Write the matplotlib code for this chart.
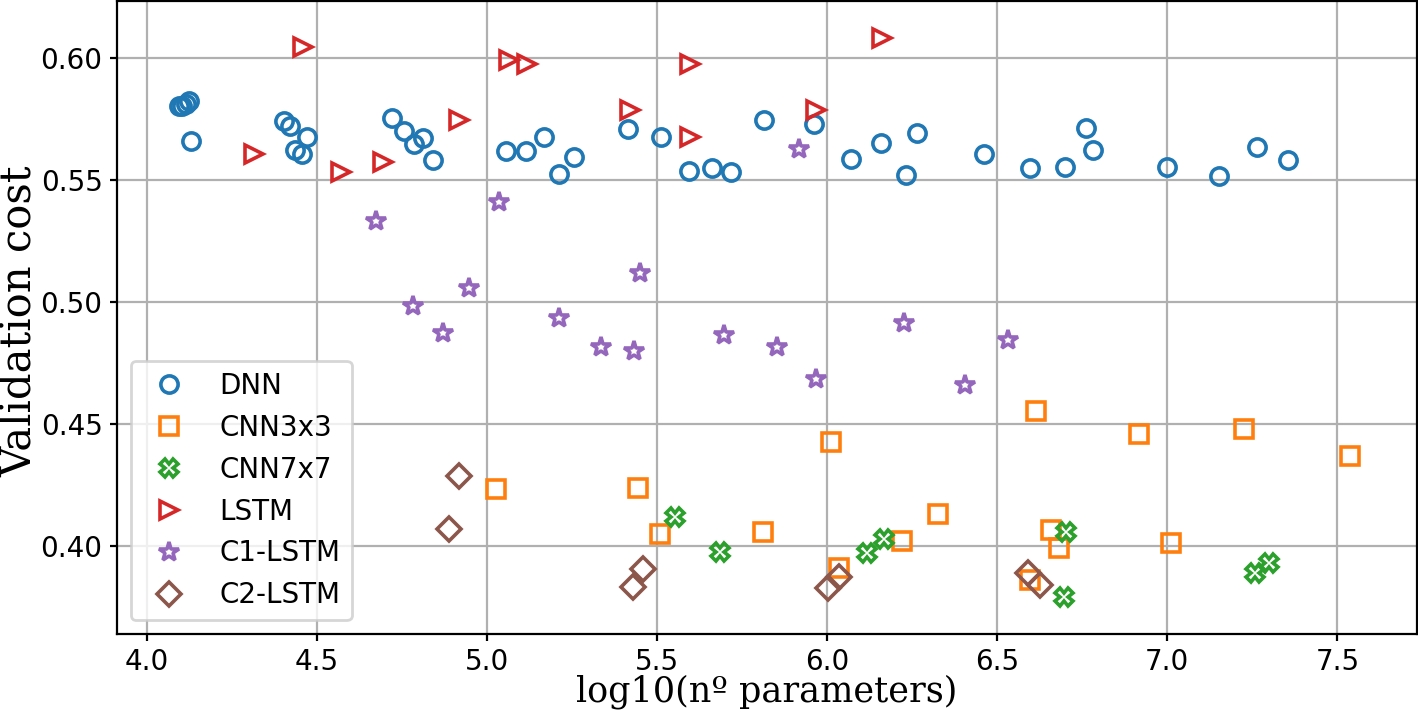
import matplotlib
matplotlib.use("Agg")
import matplotlib.pyplot as plt

# DNN
dnn_x = [4.095, 4.105, 4.115, 4.125, 4.13, 4.404, 4.422, 4.471, 4.436, 4.456,
         4.722, 4.757, 4.812, 4.787, 4.841, 5.056, 5.115, 5.167, 5.213, 5.255,
         5.415, 5.513, 5.593, 5.662, 5.719, 5.814, 5.961, 6.071, 6.159, 6.232,
         6.263, 6.460, 6.595, 6.698, 6.761, 6.781, 7.000, 7.152, 7.265, 7.355]
dnn_y = [0.5800, 0.5803, 0.5810, 0.5823, 0.5660, 0.5742, 0.5720, 0.5676, 0.5622, 0.5605,
         0.5754, 0.5700, 0.5672, 0.5645, 0.5580, 0.5616, 0.5616, 0.5676, 0.5522, 0.5592,
         0.5708, 0.5676, 0.5536, 0.5549, 0.5530, 0.5745, 0.5728, 0.5586, 0.5652, 0.5518,
         0.5693, 0.5604, 0.5547, 0.5553, 0.5713, 0.5620, 0.5553, 0.5516, 0.5633, 0.5580]

# CNN3x3
cnn3_x = [5.027, 5.444, 5.508, 5.812, 6.010, 6.036, 6.221, 6.325, 6.614, 6.657,
          6.681, 6.596, 6.918, 7.012, 7.224, 7.536]
cnn3_y = [0.4231, 0.4238, 0.4048, 0.4055, 0.4426, 0.3907, 0.4019, 0.4130, 0.4553, 0.4063,
          0.3989, 0.3859, 0.4456, 0.4012, 0.4478, 0.4368]

# CNN7x7
cnn7_x = [5.553, 5.686, 6.118, 6.167, 6.703, 6.696, 7.257, 7.299]
cnn7_y = [0.4119, 0.3973, 0.3969, 0.4026, 0.4055, 0.3791, 0.3887, 0.3930]

# LSTM
lstm_x = [4.316, 4.461, 4.571, 4.694, 4.917, 5.064, 5.119, 5.421, 5.598, 5.598,
          5.966, 6.162]
lstm_y = [0.5604, 0.6045, 0.5533, 0.5571, 0.5745, 0.5991, 0.5973, 0.5786, 0.5973, 0.5674,
          0.5786, 0.6082]

# C1-LSTM
c1_x = [4.674, 4.784, 4.871, 4.946, 5.037, 5.213, 5.336, 5.431, 5.451, 5.696,
        5.853, 5.917, 5.968, 6.225, 6.405, 6.531]
c1_y = [0.5332, 0.4982, 0.4873, 0.5057, 0.5410, 0.4934, 0.4813, 0.4799, 0.5116, 0.4864,
        0.4816, 0.5626, 0.4683, 0.4914, 0.4658, 0.4843]

# C2-LSTM
c2_x = [4.889, 4.917, 5.429, 5.458, 6.002, 6.034, 6.590, 6.625]
c2_y = [0.4068, 0.4286, 0.3830, 0.3903, 0.3825, 0.3873, 0.3887, 0.3841]

labels = ["DNN", "CNN3x3", "CNN7x7", "LSTM", "C1-LSTM", "C2-LSTM"]
xs_all = [dnn_x, cnn3_x, cnn7_x, lstm_x, c1_x, c2_x]
ys_all = [dnn_y, cnn3_y, cnn7_y, lstm_y, c1_y, c2_y]
markers = ["o", "s", "X", ">", "*", "D"]
colors = ["C0", "C1", "C2", "C3", "C4", "C5"]
sizes = [6.2, 6.2, 6.4, 6.2, 7.2, 6.2]

plt.rcParams["xtick.major.size"] = 2.5
plt.rcParams["ytick.major.size"] = 2.5
plt.rcParams["xtick.major.pad"] = 2.3
plt.rcParams["ytick.major.pad"] = 2.6

fig = plt.figure(figsize=(7.09, 3.585), dpi=200)
ax = fig.add_axes([0.0823, 0.1153, 0.9168, 0.8833])

for label, xs, ys, m, c, ms in zip(labels, xs_all, ys_all, markers, colors, sizes):
    ax.plot(xs, ys, linestyle="none", marker=m, markersize=ms,
            markerfacecolor="none", markeredgecolor=c, markeredgewidth=1.3,
            label=label)

ax.set_xlim(3.912, 7.733)
ax.set_ylim(0.3637, 0.6232)
ax.set_xticks([4.0, 4.5, 5.0, 5.5, 6.0, 6.5, 7.0, 7.5])
ax.set_yticks([0.40, 0.45, 0.50, 0.55, 0.60])
ax.grid(True)
ax.set_axisbelow(True)
ax.set_xlabel("log10(nº parameters)", family="DejaVu Serif", fontsize=12.6, labelpad=-0.5)
ax.set_ylabel("Validation cost", family="DejaVu Serif", fontsize=15)
ax.yaxis.set_label_coords(-0.059, 0.495)
ax.legend(loc="lower left")

fig.savefig("out.png", dpi=200)
